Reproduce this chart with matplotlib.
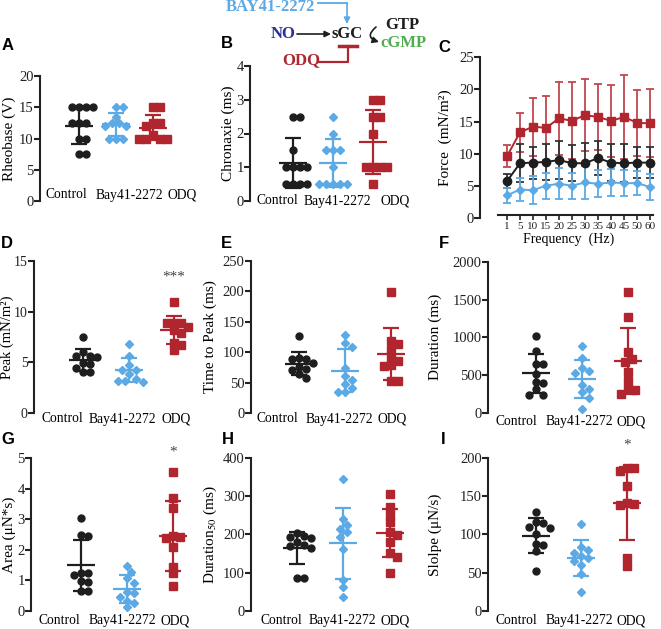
import matplotlib
matplotlib.use("Agg")
import matplotlib.pyplot as plt
import numpy as np
from matplotlib.lines import Line2D
from matplotlib.patches import FancyArrowPatch

plt.rcParams["font.family"] = ["Liberation Serif", "DejaVu Serif"]
plt.rcParams["mathtext.fontset"] = "stix"

W, H = 661, 629
BLACK, BLUE, RED = "#1e1e1e", "#5ba9e5", "#b1252e"
GREEN, NAVY = "#4fae4f", "#2b2f8f"
GROUPS = ["Control", "Bay41-2272", "ODQ"]
COLORS = [BLACK, BLUE, RED]
MARKERS = ["o", "D", "s"]
MSIZES = [5.0, 4.2, 5.6]

# ── individual values (A, B, D-I) ─────────────────────────────────
rheo_ctrl = [15, 15, 15, 15, 12.5, 12.5, 12.5, 10, 10, 7.5, 7.5]
rheo_bay = [15, 15, 13.5, 12.5, 12.5, 12, 12, 10, 10, 10]
rheo_odq = [15, 15, 12.5, 12.5, 12, 10.5, 10, 10, 10, 10]

chron_ctrl = [2.5, 2.5, 1.5, 1, 1, 1, 1, 0.5, 0.5, 0.5, 0.5]
chron_bay = [2.5, 2.0, 1.5, 1.5, 1.5, 1.0, 0.5, 0.5, 0.5, 0.5, 0.5]
chron_odq = [3, 3, 2.5, 2.5, 2, 1, 1, 1, 1, 0.5]

peak_ctrl = [7.5, 6.0, 5.6, 5.6, 5.5, 4.9, 4.8, 4.4, 4.0, 4.0]
peak_bay = [6.8, 5.6, 4.7, 4.2, 4.2, 3.8, 3.4, 3.2, 3.2, 3.1]
peak_odq = [11.0, 8.9, 8.9, 8.9, 8.5, 8.2, 7.9, 6.9, 6.7, 6.2]

ttp_ctrl = [126, 90, 88, 88, 82, 76, 72, 70, 64, 58]
ttp_bay = [128, 115, 109, 74, 61, 55, 48, 41, 34, 34]
ttp_odq = [199, 119, 114, 103, 90, 85, 79, 77, 52, 52]

dur_ctrl = [1020, 826, 646, 646, 519, 404, 396, 316, 242, 242]
dur_bay = [892, 725, 593, 549, 527, 374, 321, 272, 198, 57]
dur_odq = [1596, 1266, 800, 716, 673, 536, 426, 321, 299, 255]

area_ctrl = [3.03, 2.46, 2.49, 1.26, 1.26, 1.18, 0.96, 0.99, 0.66, 0.66]
area_bay = [1.48, 1.29, 1.07, 0.91, 0.63, 0.58, 0.45, 0.34, 0.25, 0.12]
area_odq = [4.54, 3.69, 3.36, 2.46, 2.43, 2.40, 2.09, 1.45, 1.23, 0.83]

d50_ctrl = [203, 195, 193, 190, 180, 172, 170, 165, 87, 87]
d50_bay = [344, 240, 224, 215, 205, 194, 161, 81, 63, 37]
d50_odq = [304, 272, 250, 231, 207, 198, 181, 152, 142, 98]

slope_ctrl = [129, 116, 115, 110, 108, 100, 88, 86, 78, 52]
slope_bay = [113, 83, 80, 76, 72, 69, 65, 60, 48, 25]
slope_odq = [187, 186, 182, 163, 141, 140, 138, 69, 59]

# ── C: force-frequency (mean, SD) ─────────────────────────────────
freq = ["1", "5", "10", "15", "20", "25", "30", "35", "40", "45", "50", "60"]
force_odq = [9.6, 13.3, 14.2, 14.0, 15.5, 15.1, 16.0, 15.7, 15.1, 15.7, 14.8, 14.7]
force_odq_sd = [1.7, 3.1, 4.5, 5.0, 5.7, 6.0, 5.6, 5.1, 5.6, 6.5, 5.1, 5.3]
force_ctrl = [5.7, 8.5, 8.6, 8.7, 9.0, 8.5, 8.5, 9.3, 8.6, 8.5, 8.6, 8.6]
force_ctrl_sd = [1.1, 3.0, 2.5, 2.8, 3.0, 2.8, 3.1, 2.7, 2.9, 3.0, 2.4, 2.4]
force_bay = [3.5, 4.4, 4.3, 5.0, 5.3, 5.0, 5.5, 5.3, 5.5, 5.4, 5.4, 4.8]
force_bay_sd = [1.2, 1.8, 2.2, 2.0, 2.4, 2.0, 2.6, 2.1, 2.1, 2.0, 1.9, 2.0]

fig = plt.figure(figsize=(W / 100, H / 100), dpi=100)


def px_ax(left, top, right, bottom):
    return fig.add_axes([left / W, 1 - bottom / H, (right - left) / W, (bottom - top) / H])


def ftext(x, y, s, **kw):
    kw.setdefault("ha", "center")
    kw.setdefault("va", "center")
    return fig.text(x / W, 1 - y / H, s, **kw)


def swarm(vals, ppy, d=7.0):
    # greedy beeswarm in pixel units
    order = np.argsort(-vals)
    placed, offs = [], np.zeros(len(vals))
    cands = [0.0] + [s * k * 0.5 * d for k in range(1, 12) for s in (1, -1)]
    for i in order:
        y = vals[i] * ppy
        for c in cands:
            if all((c - px) ** 2 + (y - py) ** 2 >= (0.95 * d) ** 2 for px, py in placed):
                break
        placed.append((c, y))
        offs[i] = c
    return offs


def style_y(ax, ymax, ystep, tsize=10.5):
    for s in ["top", "right", "bottom"]:
        ax.spines[s].set_visible(False)
    ax.spines["left"].set_linewidth(1.5)
    ax.spines["left"].set_color("#222222")
    ax.set_yticks(np.arange(0, ymax + ystep / 2, ystep))
    ax.tick_params(axis="y", direction="out", length=4, width=1.5, labelsize=tsize, pad=0.5, colors="#222222")


def dot_panel(letter, let_xy, box, x0, dx, ymax, ystep, ylabel, ylab_x, groups, lab_xs, lab_y,
              star=None, ylab_size=11, tsize=10.5):
    left, top, right, bottom = box
    ax = px_ax(*box)
    ax.set_xlim((left - x0) / dx, (right - x0) / dx)
    ax.set_ylim(0, ymax)
    ppy = (bottom - top) / ymax
    for i, (vals, color, marker, ms) in enumerate(zip(groups, COLORS, MARKERS, MSIZES)):
        vals = np.asarray(vals, float)
        xs = i + swarm(vals, ppy) / dx
        ax.plot(xs, vals, ls="none", marker=marker, ms=ms, color=color, mec=color, clip_on=False, zorder=2)
        m, s = vals.mean(), vals.std(ddof=1)
        ax.hlines(m, i - 14 / dx, i + 14 / dx, color=color, lw=1.6, zorder=3)
        ax.errorbar(i, m, yerr=s, fmt="none", ecolor=color, elinewidth=1.6, capsize=5.5, capthick=1.6, zorder=3)
    style_y(ax, ymax, ystep, tsize)
    ax.set_xticks([])
    ax.set_ylabel(ylabel, fontsize=ylab_size)
    ax.yaxis.set_label_coords((ylab_x - left) / (right - left), 0.5)
    for name, lx in zip(GROUPS, lab_xs):
        ftext(lx, lab_y, name, fontsize=9.8)
    if star is not None:
        ax.text(2, star[1], star[0], ha="center", va="center", fontsize=11, color="#444444")
    ftext(*let_xy, letter, family="Liberation Sans", fontweight="bold", fontsize=12)
    return ax


# A
dot_panel("A", (8, 46), (40, 76, 205, 201), 79, 37, 20, 5, "Rheobase (V)", 16,
          [rheo_ctrl, rheo_bay, rheo_odq], [66.5, 129.5, 182], 195)
# B
dot_panel("B", (227, 43), (250, 66, 425, 201), 293, 40, 4, 1, "Chronaxie (ms)", 235,
          [chron_ctrl, chron_bay, chron_odq], [277, 337, 395], 201)
# D
dot_panel("D", (7, 243), (34, 261, 210, 413), 83, 45.5, 15, 5, "Peak (mN/m²)", 14.5,
          [peak_ctrl, peak_bay, peak_odq], [62.5, 122.5, 176], 419, star=("***", 13.4),
          ylab_size=10.5, tsize=10)
# E
dot_panel("E", (226, 243), (250.7, 261, 440, 413), 299, 46, 250, 50, "Time to Peak (ms)", 217,
          [ttp_ctrl, ttp_bay, ttp_odq], [277, 339, 392], 419)
# F
dot_panel("F", (444, 244), (488, 261.7, 658, 413), 536, 46, 2000, 500, "Duration (ms)", 442,
          [dur_ctrl, dur_bay, dur_odq], [516, 579, 631], 421.7)
# G
dot_panel("G", (8, 440), (31, 458.3, 205, 611), 81, 46, 5, 1, "Area (μN*s)", 16,
          [area_ctrl, area_bay, area_odq], [59, 122, 175], 620.7, star=("*", 5.2))
# H
dot_panel("H", (228, 440), (251, 457.7, 430, 611), 296.7, 46.6, 400, 100, "Duration$_{50}$ (ms)", 219,
          [d50_ctrl, d50_bay, d50_odq], [281, 342, 395], 620.7)
# I
dot_panel("I", (443, 440), (488.3, 457.7, 658, 611), 535.7, 45.7, 200, 50, "Slolpe (μN/s)", 442,
          [slope_ctrl, slope_bay, slope_odq], [516, 579, 631], 620.7, star=("*", 216))

# C: force-frequency
left, top, right, bottom = 480, 57.3, 658, 217.8
axc = px_ax(left, top, right, bottom)
axc.set_xlim((left - 507) / 13, (right - 507) / 13)
axc.set_ylim(0, 25)
xc = np.arange(len(freq))
for mean, sd, color, ecol, marker, ms in [(force_odq, force_odq_sd, RED, "#c2464e", "s", 6.0),
                                          (force_ctrl, force_ctrl_sd, BLACK, "#333333", "o", 6.0),
                                          (force_bay, force_bay_sd, BLUE, BLUE, "D", 3.6)]:
    axc.errorbar(xc, mean, yerr=sd, color=color, ecolor=ecol, marker=marker, ms=ms, lw=1.4,
                 elinewidth=1.3, capsize=3, capthick=1.3, clip_on=False)
style_y(axc, 25, 5)
axc.spines["bottom"].set_visible(True)
axc.spines["bottom"].set_linewidth(1.5)
axc.spines["bottom"].set_color("#222222")
axc.spines["bottom"].set_position(("data", 0.5))
axc.spines["bottom"].set_bounds(-0.7, 11.2)
axc.set_xticks(xc, freq)
axc.tick_params(axis="x", labelsize=8, length=3.5, width=1.2, pad=2, colors="#222222")
axc.set_xlabel("Frequency  (Hz)", fontsize=10, labelpad=1)
axc.set_ylabel("Force  (mN/m²)", fontsize=11)
axc.yaxis.set_label_coords((452 - left) / (right - left), 0.5)
ftext(444, 47, "C", family="Liberation Sans", fontweight="bold", fontsize=12)

# schematic at top
bold = dict(fontweight="bold", fontsize=12)
ftext(270, 7, "BAY41-2272", color=BLUE, **bold)
ftext(283, 34, "NO", color=NAVY, **bold)
ftext(347, 34, "sGC", color=BLACK, **bold)
ftext(402, 25, "GTP", color=BLACK, **bold)
ftext(403, 43, "cGMP", color=GREEN, **bold)
ftext(301, 60, "ODQ", color=RED, **bold)


def fline(xs, ys, color, lw=1.3):
    fig.add_artist(Line2D([x / W for x in xs], [1 - y / H for y in ys], color=color, lw=lw,
                          transform=fig.transFigure))


def farrow(p0, p1, color, rad=0.0):
    fig.add_artist(FancyArrowPatch((p0[0] / W, 1 - p0[1] / H), (p1[0] / W, 1 - p1[1] / H),
                                   transform=fig.transFigure, arrowstyle="-|>", mutation_scale=9,
                                   color=color, lw=1.2, connectionstyle=f"arc3,rad={rad}",
                                   shrinkA=0, shrinkB=0))


fline([318, 347], [3, 3], BLUE)
farrow((347, 3), (347, 24), BLUE)
farrow((297, 34), (331, 34), BLACK)
farrow((376, 27), (379, 42), BLACK, rad=0.9)
fline([318, 348, 348], [62, 62, 46], RED, lw=1.6)
fline([339, 357], [46, 46], RED, lw=2.5)

fig.savefig("out.png", dpi=100)
